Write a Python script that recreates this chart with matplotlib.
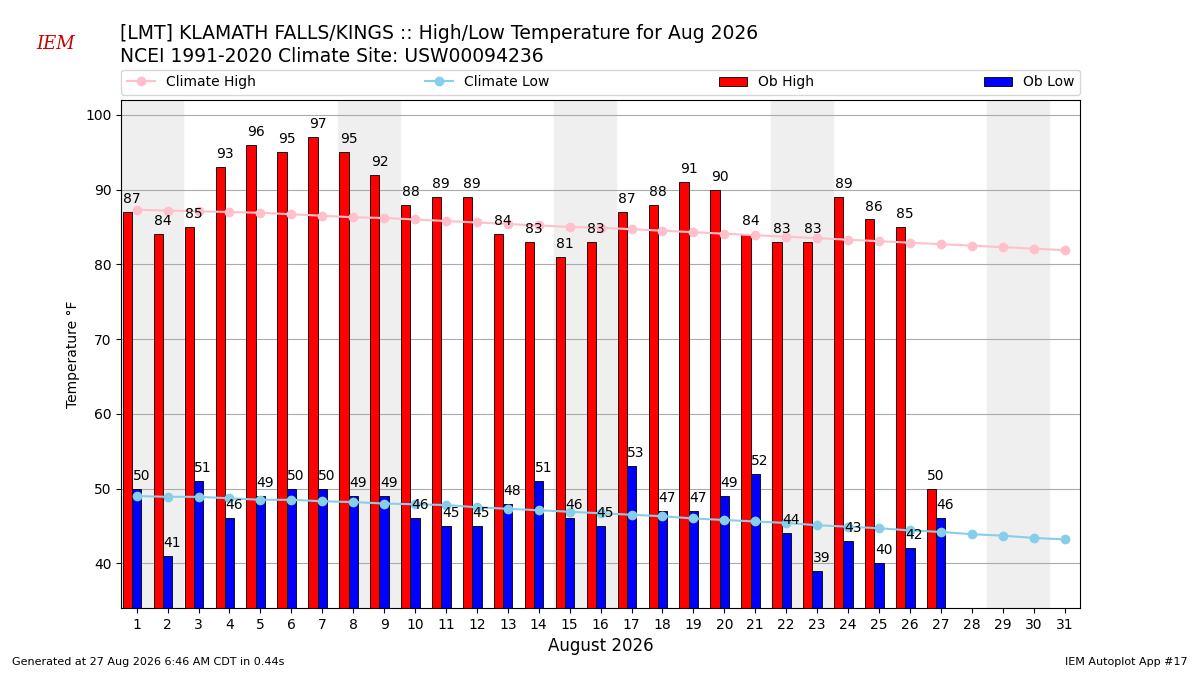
import numpy as np
import matplotlib.pyplot as plt

days = np.arange(1, 32)
ob_high = [87, 84, 85, 93, 96, 95, 97, 95, 92, 88, 89, 89, 84, 83, 81, 83, 87, 88, 91, 90, 84, 83, 83, 89, 86, 85, 50]
ob_low = [50, 41, 51, 46, 49, 50, 50, 49, 49, 46, 45, 45, 48, 51, 46, 45, 53, 47, 47, 49, 52, 44, 39, 43, 40, 42, 46]
clim_high = [87.3, 87.2, 87.1, 87.0, 86.9, 86.7, 86.5, 86.3, 86.2, 86.0, 85.8, 85.6, 85.4, 85.2, 85.0, 84.9,
             84.7, 84.5, 84.3, 84.1, 83.9, 83.7, 83.5, 83.3, 83.1, 82.9, 82.7, 82.5, 82.3, 82.1, 81.9]
clim_low = [49.0, 48.9, 48.9, 48.7, 48.5, 48.5, 48.3, 48.2, 48.0, 47.9, 47.8, 47.5, 47.3, 47.1, 46.9, 46.7,
            46.5, 46.3, 46.0, 45.8, 45.6, 45.4, 45.1, 44.9, 44.7, 44.4, 44.2, 43.9, 43.7, 43.4, 43.2]
weekends = [1, 8, 15, 22, 29]

fig = plt.figure(figsize=(12, 6.75), dpi=100)
ax = fig.add_axes([0.101, 0.099, 0.799, 0.753])

for w in weekends:
    ax.axvspan(w - 0.5, w + 1.5, color="#efefef", zorder=0)

obs_days = days[:len(ob_high)]
bh = ax.bar(obs_days - 0.3, ob_high, width=0.3, color="red", edgecolor="black", linewidth=0.6, zorder=2, label="Ob High")
bl = ax.bar(obs_days, ob_low, width=0.3, color="blue", edgecolor="black", linewidth=0.6, zorder=2, label="Ob Low")

lh, = ax.plot(days, clim_high, color="pink", marker="o", markersize=6, zorder=3, label="Climate High")
ll, = ax.plot(days, clim_low, color="skyblue", marker="o", markersize=6, zorder=3, label="Climate Low")

for d, v in zip(obs_days, ob_high):
    ax.text(d - 0.15, v + 0.8, str(v), ha="center", va="bottom", fontsize=10, zorder=4)
for d, v in zip(obs_days, ob_low):
    ax.text(d + 0.15, v + 0.8, str(v), ha="center", va="bottom", fontsize=10, zorder=4)

ax.set_xlim(0.5, 31.5)
ax.set_ylim(34, 102)
ax.set_xticks(days)
ax.set_yticks(range(40, 101, 10))
ax.yaxis.grid(True, color="#aaaaaa", linewidth=0.8)
ax.set_axisbelow(True)
ax.set_ylabel("Temperature °F", fontsize=10)
ax.set_xlabel("August 2026", fontsize=12)

ax.legend(handles=[lh, ll, bh, bl], loc="lower left", bbox_to_anchor=(0, 1.01, 1, 0.05),
          ncol=4, mode="expand", fontsize=10, borderaxespad=0)

fig.text(0.1, 0.95, "[LMT] KLAMATH FALLS/KINGS :: High/Low Temperature for Aug 2026", fontsize=13.5, va="center")
fig.text(0.1, 0.917, "NCEI 1991-2020 Climate Site: USW00094236", fontsize=13.5, va="center")
fig.text(0.03, 0.935, "IEM", color="#cc0000", fontsize=13, style="italic", family="serif", va="center")
fig.text(0.01, 0.015, "Generated at 27 Aug 2026 6:46 AM CDT in 0.44s", fontsize=8)
fig.text(0.99, 0.015, "IEM Autoplot App #17", fontsize=8, ha="right")

fig.savefig("out.png")
